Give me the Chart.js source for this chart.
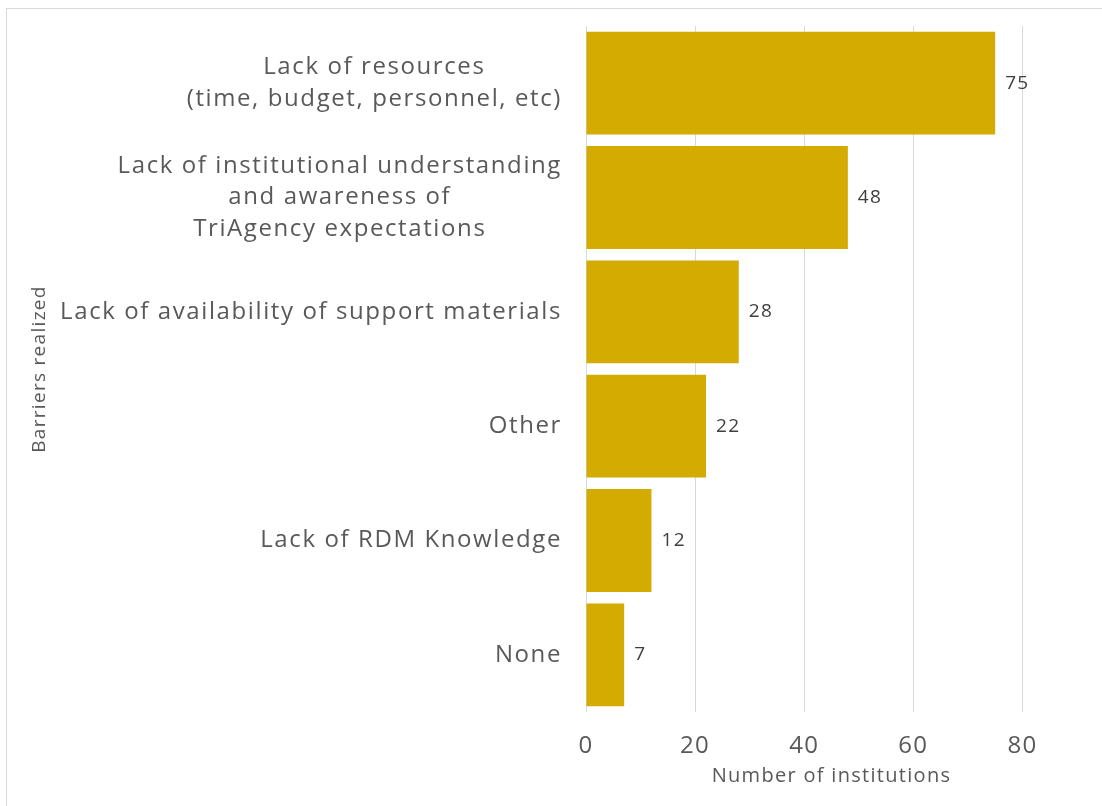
<!DOCTYPE html>
<html>
<head>
<meta charset="utf-8">
<script src="https://cdn.jsdelivr.net/npm/chart.js@4"></script>
<style>
  body { margin: 0; background: #fff; overflow: hidden; }
  #wrap { position: relative; width: 1102px; height: 806px; }
  .frame { position: absolute; left: 6px; top: 8px; width: 1200px; height: 1000px; border: 1px solid #d9d9d9; }
  #chart { position: absolute; left: 0; top: 0; }
</style>
</head>
<body>
<div id="wrap">
  <div class="frame"></div>
  <canvas id="chart" width="1102" height="806"></canvas>
</div>
<script>
// chart data
const barrierLabels = [
    ['Lack of resources', '(time, budget, personnel, etc)'],
    ['Lack of institutional understanding', 'and awareness of', 'TriAgency expectations'],
    'Lack of availability of support materials',
    'Other',
    'Lack of RDM Knowledge',
    'None'
];
const institutionCounts = [75, 48, 28, 22, 12, 7];
const xTickMax = 80;

const fontFamily = '"Open Sans", "DejaVu Sans", sans-serif';

// wider text, closer to the original typeface
const spacing = {
    id: 'spacing',
    beforeDraw(chart) { chart.ctx.letterSpacing = '1.3px'; },
    afterDraw(chart) { chart.ctx.letterSpacing = '0px'; }
};

// labels next to each bar
const valueLabels = {
    id: 'valueLabels',
    afterDatasetsDraw(chart) {
        const ctx = chart.ctx;
        const meta = chart.getDatasetMeta(0);
        ctx.save();
        ctx.font = '19px ' + fontFamily;
        ctx.fillStyle = '#404040';
        ctx.textAlign = 'left';
        ctx.textBaseline = 'middle';
        meta.data.forEach((bar, i) => {
            ctx.fillText(String(chart.data.datasets[0].data[i]), bar.x + 10, bar.y);
        });
        ctx.restore();
    }
};

// category labels: block right aligned, lines centred inside the block
const categoryLabels = {
    id: 'categoryLabels',
    afterDraw(chart) {
        const ctx = chart.ctx;
        const yScale = chart.scales.y;
        const lineHeight = 31.5;
        ctx.save();
        ctx.letterSpacing = '1.6px';
        ctx.font = '24px ' + fontFamily;
        ctx.fillStyle = '#595959';
        ctx.textAlign = 'center';
        ctx.textBaseline = 'middle';
        chart.data.labels.forEach((label, i) => {
            const lines = Array.isArray(label) ? label : [label];
            const maxW = Math.max(...lines.map(l => ctx.measureText(l).width));
            const cx = yScale.right - 24 - maxW / 2;
            const y0 = yScale.getPixelForTick(i) - (lines.length - 1) * lineHeight / 2;
            lines.forEach((line, j) => ctx.fillText(line, cx, y0 + j * lineHeight));
        });
        ctx.restore();
    }
};

new Chart(document.getElementById('chart'), {
    type: 'bar',
    data: {
        labels: barrierLabels,
        datasets: [{
            data: institutionCounts,
            backgroundColor: '#D4AB00',
            borderWidth: 0,
            categoryPercentage: 1,
            barPercentage: 0.9
        }]
    },
    options: {
        indexAxis: 'y',
        responsive: true,
        maintainAspectRatio: false,
        animation: false,
        layout: { padding: { top: 26, right: 25, left: 0, bottom: 0 } },
        plugins: {
            legend: { display: false },
            tooltip: { enabled: false }
        },
        scales: {
            x: {
                min: 0,
                max: 90,
                afterBuildTicks: s => { s.ticks = s.ticks.filter(t => t.value <= xTickMax); },
                afterFit: s => { s.height = 94; },
                ticks: {
                    stepSize: 20,
                    color: '#595959',
                    font: { size: 24, family: fontFamily },
                    padding: 20
                },
                grid: { color: '#d9d9d9', drawTicks: false },
                border: { display: false },
                title: {
                    display: true,
                    text: 'Number of institutions',
                    color: '#595959',
                    font: { size: 20, family: fontFamily },
                    padding: { top: 0, bottom: 18 }
                }
            },
            y: {
                afterFit: s => { s.width = 586; },
                ticks: { display: false },
                grid: { display: false, drawTicks: false },
                border: { display: false },
                title: {
                    display: true,
                    text: 'Barriers realized',
                    color: '#595959',
                    font: { size: 19, family: fontFamily },
                    padding: { top: 28, bottom: 0 }
                }
            }
        }
    },
    plugins: [spacing, valueLabels, categoryLabels]
});
</script>
</body>
</html>
